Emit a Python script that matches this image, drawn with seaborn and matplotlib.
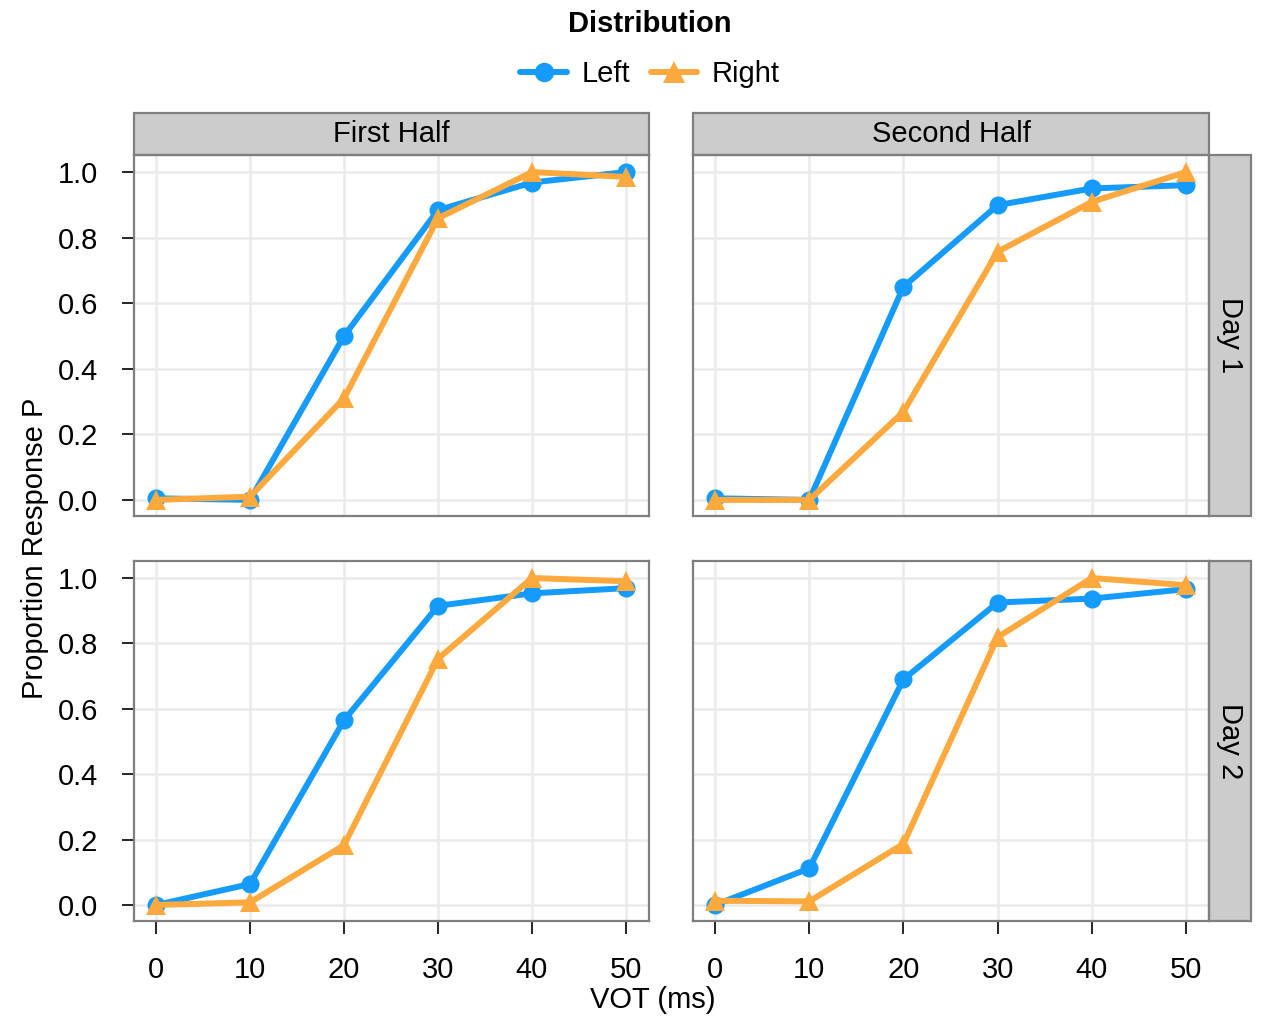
import numpy as np
import pandas as pd
import matplotlib.pyplot as plt
import seaborn as sns
from matplotlib.patches import Rectangle

# ------------------------------------------------------------
# Datos
# ------------------------------------------------------------
vot = [0, 10, 20, 30, 40, 50]
halves = ["First Half", "Second Half"]
days = ["Day 1", "Day 2"]
dists = ["Left", "Right"]

day1_first_left = [0.005, 0.0, 0.50, 0.884, 0.968, 1.0]
day1_first_right = [0.0, 0.01, 0.31, 0.859, 1.0, 0.985]
day1_second_left = [0.005, 0.0, 0.65, 0.899, 0.95, 0.96]
day1_second_right = [0.0, 0.0, 0.269, 0.757, 0.909, 1.0]
day2_first_left = [0.0, 0.064, 0.565, 0.915, 0.953, 0.969]
day2_first_right = [0.0, 0.008, 0.183, 0.753, 1.0, 0.99]
day2_second_left = [0.0, 0.112, 0.69, 0.925, 0.937, 0.966]
day2_second_right = [0.013, 0.011, 0.187, 0.819, 1.0, 0.978]

series = {
    ("Day 1", "First Half", "Left"): day1_first_left,
    ("Day 1", "First Half", "Right"): day1_first_right,
    ("Day 1", "Second Half", "Left"): day1_second_left,
    ("Day 1", "Second Half", "Right"): day1_second_right,
    ("Day 2", "First Half", "Left"): day2_first_left,
    ("Day 2", "First Half", "Right"): day2_first_right,
    ("Day 2", "Second Half", "Left"): day2_second_left,
    ("Day 2", "Second Half", "Right"): day2_second_right,
}

rows = []
for (day, half, dist), vals in series.items():
    for x, y in zip(vot, vals):
        rows.append({"day": day, "half": half, "Distribution": dist, "VOT": x, "P": y})
df = pd.DataFrame(rows)

# ------------------------------------------------------------
# Estilo
# ------------------------------------------------------------
sns.set_style("white")
plt.rcParams["font.family"] = ["Liberation Sans", "DejaVu Sans"]
plt.rcParams["text.color"] = "black"
plt.rcParams["xtick.labelcolor"] = "black"
plt.rcParams["ytick.labelcolor"] = "black"
FS = 21
LW = 4.3
palette = {"Left": "#159BFB", "Right": "#FEA93E"}
markers = {"Left": "o", "Right": "^"}
msizes = {"Left": 13, "Right": 15}
SPINE = "#7F7F7F"
STRIP = "#CCCCCC"

fig = plt.figure(figsize=(12.62, 10.17), dpi=100)

W, H = 1262, 1017
xs = {"First Half": (134, 515), "Second Half": (693, 516)}
ys = {"Day 1": (155, 516), "Day 2": (561, 921)}

for day in days:
    for half in halves:
        x0, w = xs[half]
        top, bot = ys[day]
        ax = fig.add_axes([x0 / W, 1 - bot / H, w / W, (bot - top) / H])
        sub = df[(df.day == day) & (df.half == half)]
        sns.lineplot(data=sub, x="VOT", y="P", hue="Distribution", style="Distribution",
                     hue_order=dists, style_order=dists, palette=palette,
                     markers=markers, dashes=False, ax=ax, legend=False)
        # grosor de línea y tamaño de marcador fijos
        for line, d in zip(ax.lines, dists):
            line.set_linewidth(LW)
            line.set_markersize(msizes[d])
            line.set_markeredgewidth(0)

        ax.set_xlim(-2.35, 52.45)
        ax.set_ylim(-0.049, 1.052)
        ax.set_xticks(vot)
        ax.set_yticks([0.0, 0.2, 0.4, 0.6, 0.8, 1.0])
        ax.set_axisbelow(True)
        ax.grid(True, color="#EBEBEB", linewidth=1.8)
        for s in ax.spines.values():
            s.set_color(SPINE)
            s.set_linewidth(1.6)
        ax.set_xlabel("")
        ax.set_ylabel("")

        if half == "First Half":
            ax.yaxis.set_major_formatter(plt.FuncFormatter(lambda v, p: f"{v:.1f}"))
            ax.tick_params(axis="y", left=True, length=9, width=1.2, pad=17,
                           labelsize=FS, color="black")
        else:
            ax.tick_params(axis="y", left=False, labelleft=False)
        if day == "Day 2":
            ax.tick_params(axis="x", bottom=True, length=9, width=1.2, pad=16,
                           labelsize=FS, color="black")
        else:
            ax.tick_params(axis="x", bottom=False, labelbottom=False)

        # Tira superior (columnas)
        if day == "Day 1":
            sh = 42 / (bot - top)
            ax.add_patch(Rectangle((0, 1), 1, sh, transform=ax.transAxes,
                                   facecolor=STRIP, edgecolor=SPINE, linewidth=1.6,
                                   clip_on=False))
            ax.text(0.5, 1 + sh / 2, half, transform=ax.transAxes, ha="center",
                    va="center", fontsize=FS)
        # Tira derecha (filas)
        if half == "Second Half":
            sw = 42 / w
            ax.add_patch(Rectangle((1, 0), sw, 1, transform=ax.transAxes,
                                   facecolor=STRIP, edgecolor=SPINE, linewidth=1.6,
                                   clip_on=False))
            ax.text(1 + sw / 2, 0.5, day, transform=ax.transAxes, ha="center",
                    va="center", rotation=-90, fontsize=FS)

fig.text(35 / W, 1 - 548 / H, "Proportion Response P", rotation=90,
         ha="center", va="center", fontsize=FS)
fig.text(653 / W, 1 - 1000 / H, "VOT (ms)", ha="center", va="center", fontsize=FS)

# Leyenda construida con los mismos estilos
handles = [plt.Line2D([], [], color=palette[d], marker=markers[d], linewidth=LW,
                      markersize=msizes[d] + 1, markeredgewidth=0) for d in dists]
leg = fig.legend(handles, dists, loc="upper center", bbox_to_anchor=(650 / W, 1.01),
                 ncol=2, frameon=False, title="Distribution", fontsize=FS,
                 title_fontproperties={"weight": "bold", "size": FS},
                 handlelength=1.6, columnspacing=0.7, handletextpad=0.5,
                 borderaxespad=0.3)
leg._legend_box.sep = 16

plt.savefig("out.png", dpi=100)
plt.close()
